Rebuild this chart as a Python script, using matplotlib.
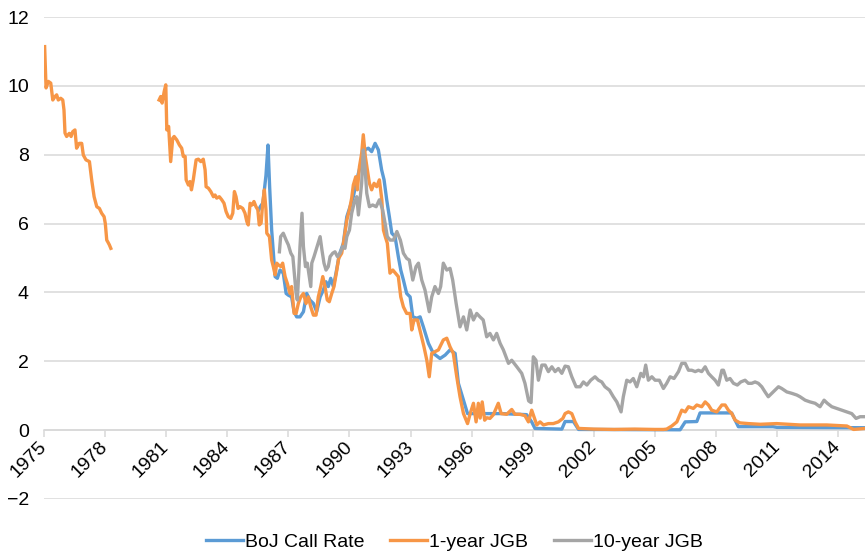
import matplotlib
matplotlib.use('Agg')
import matplotlib.pyplot as plt
import numpy as np

plt.rcParams['font.family'] = ['Liberation Sans', 'DejaVu Sans']
plt.rcParams['font.size'] = 14

# ---- data ----
call_year = [1985.55, 1985.62, 1985.75, 1985.90, 1986.00, 1986.08, 1986.18, 1986.35, 1986.46, 1986.59,
             1986.75, 1986.89, 1987.00, 1987.16, 1987.28, 1987.41, 1987.57, 1987.74, 1987.90, 1988.06,
             1988.23, 1988.39, 1988.56, 1988.72, 1988.85, 1988.96, 1989.08, 1989.21, 1989.34, 1989.50,
             1989.70, 1989.87, 1990.03, 1990.19, 1990.36, 1990.52, 1990.76, 1990.93, 1991.09, 1991.26,
             1991.42, 1991.58, 1991.70, 1991.83, 1991.96, 1992.08, 1992.24, 1992.40, 1992.52, 1992.65,
             1992.81, 1992.98, 1993.11, 1993.31, 1993.47, 1993.63, 1993.88, 1994.12, 1994.45, 1994.70,
             1994.94, 1995.19, 1995.35, 1995.60, 1995.80, 1996.50, 1997.50, 1998.70, 1998.95, 1999.11,
             2000.43, 2000.59, 2001.00, 2001.25, 2006.24, 2006.49, 2007.06, 2007.22, 2008.77, 2008.94,
             2009.10, 2010.80, 2011.00, 2015.33]
call_rate = [6.40, 6.49, 6.60, 7.40, 8.28, 7.07, 5.81, 4.46, 4.41, 4.65,
             4.56, 3.97, 3.92, 3.87, 3.44, 3.29, 3.29, 3.44, 3.97, 3.78,
             3.68, 3.44, 3.87, 4.07, 4.31, 4.17, 4.41, 4.17, 4.56, 5.09,
             5.43, 6.20, 6.49, 6.78, 7.27, 7.65, 8.14, 8.19, 8.09, 8.33,
             8.14, 7.56, 7.27, 6.69, 6.20, 5.72, 5.62, 5.04, 4.65, 4.36,
             3.97, 3.87, 3.29, 3.25, 3.29, 3.00, 2.52, 2.23, 2.08, 2.18,
             2.33, 2.23, 1.36, 0.87, 0.48, 0.48, 0.48, 0.45, 0.24, 0.05,
             0.03, 0.25, 0.25, 0.02, 0.01, 0.24, 0.25, 0.50, 0.50, 0.29,
             0.10, 0.10, 0.08, 0.07]

jgb1_year = [1975.03, 1975.10, 1975.21, 1975.33, 1975.43, 1975.54, 1975.62, 1975.70, 1975.82, 1975.92,
             1975.98, 1976.03, 1976.11, 1976.24, 1976.33, 1976.41, 1976.52, 1976.60, 1976.73, 1976.85,
             1976.93, 1977.06, 1977.23, 1977.34, 1977.46, 1977.59, 1977.72, 1977.83, 1977.95, 1978.01,
             1978.08, 1978.13, 1978.21, 1978.28, 1979.50,
             1980.65, 1980.73, 1980.80, 1980.90, 1980.98, 1981.03, 1981.12, 1981.22, 1981.32, 1981.39,
             1981.52, 1981.65, 1981.76, 1981.84, 1981.93, 1981.98, 1982.09, 1982.17, 1982.24, 1982.33,
             1982.47, 1982.58, 1982.70, 1982.82, 1982.91, 1982.96, 1983.07, 1983.19, 1983.32, 1983.40,
             1983.48, 1983.61, 1983.73, 1983.84, 1983.94, 1984.05, 1984.17, 1984.27, 1984.35, 1984.43,
             1984.53, 1984.63, 1984.76, 1984.87, 1984.96, 1985.03, 1985.12, 1985.22, 1985.31, 1985.41,
             1985.50, 1985.57, 1985.66, 1985.74, 1985.82, 1985.90, 1985.94, 1986.07, 1986.18, 1986.26,
             1986.35, 1986.43, 1986.51, 1986.63, 1986.72, 1986.84, 1986.95, 1987.08, 1987.16, 1987.28,
             1987.38, 1987.49, 1987.61, 1987.74, 1987.87, 1987.98, 1988.10, 1988.23, 1988.36, 1988.47,
             1988.59, 1988.69, 1988.80, 1988.91, 1989.01, 1989.13, 1989.24, 1989.38, 1989.47, 1989.62,
             1989.73, 1989.87, 1990.00, 1990.11, 1990.19, 1990.31, 1990.39, 1990.49, 1990.60, 1990.68,
             1990.78, 1990.88, 1990.98, 1991.09, 1991.21, 1991.34, 1991.47, 1991.59, 1991.67, 1991.76,
             1991.86, 1991.99, 1992.13, 1992.26, 1992.40, 1992.52, 1992.65, 1992.81, 1992.98, 1993.06,
             1993.17, 1993.34, 1993.50, 1993.66, 1993.80, 1993.92, 1994.04, 1994.20, 1994.37, 1994.61,
             1994.78, 1994.94, 1995.10, 1995.27, 1995.43, 1995.60, 1995.80, 1995.93, 1996.09, 1996.22,
             1996.33, 1996.42, 1996.52, 1996.64, 1996.75, 1996.90, 1997.07, 1997.31, 1997.45, 1997.72,
             1997.97, 1998.13, 1998.38, 1998.62, 1998.79, 1998.95, 1999.20, 1999.36, 1999.53, 1999.77,
             2000.01, 2000.26, 2000.48, 2000.59, 2000.75, 2000.92, 2001.08, 2001.25, 2002.00, 2003.00,
             2004.00, 2005.00, 2005.42, 2005.58, 2005.83, 2006.08, 2006.32, 2006.49, 2006.65, 2006.89,
             2007.06, 2007.30, 2007.47, 2007.63, 2007.79, 2008.04, 2008.29, 2008.45, 2008.61, 2008.78,
             2008.94, 2009.18, 2009.60, 2010.17, 2010.98, 2012.13, 2013.44, 2014.43, 2014.76, 2015.33]
jgb1_rate = [11.14, 9.94, 10.13, 10.08, 9.59, 9.69, 9.74, 9.59, 9.64, 9.59,
             9.30, 8.63, 8.53, 8.62, 8.53, 8.67, 8.72, 8.19, 8.33, 8.33,
             7.99, 7.85, 7.80, 7.27, 6.78, 6.49, 6.44, 6.30, 6.20, 6.00,
             5.52, 5.47, 5.38, 5.28, np.nan,
             9.59, 9.69, 9.50, 9.83, 10.03, 8.72, 8.82, 7.80, 8.48, 8.53,
             8.43, 8.28, 8.19, 7.95, 7.95, 7.27, 7.12, 7.22, 6.98, 7.27,
             7.85, 7.87, 7.80, 7.87, 7.56, 7.07, 7.03, 6.93, 6.78, 6.83,
             6.74, 6.78, 6.69, 6.59, 6.35, 6.20, 6.15, 6.30, 6.93, 6.78,
             6.44, 6.49, 6.44, 6.30, 6.06, 5.96, 6.59, 6.54, 6.64, 6.49,
             6.40, 5.96, 6.01, 6.59, 6.98, 6.40, 5.72, 5.62, 4.94, 4.75,
             4.51, 4.85, 4.80, 4.75, 4.85, 4.46, 4.26, 3.97, 4.17, 3.39,
             3.39, 3.68, 3.87, 3.97, 3.68, 3.87, 3.58, 3.34, 3.34, 3.87,
             4.17, 4.46, 4.17, 3.78, 3.73, 3.97, 4.17, 4.65, 4.99, 5.14,
             5.52, 6.10, 6.40, 6.74, 7.12, 7.36, 6.98, 7.65, 8.04, 8.58,
             7.95, 7.56, 7.17, 6.98, 7.17, 7.07, 7.27, 6.69, 5.81, 5.62,
             5.43, 4.56, 4.65, 4.56, 4.46, 3.87, 3.58, 3.39, 3.39, 2.91,
             3.20, 3.20, 2.81, 2.42, 2.03, 1.55, 2.23, 2.28, 2.33, 2.62,
             2.67, 2.42, 2.23, 1.55, 0.97, 0.48, 0.19, 0.48, 0.78, 0.24,
             0.78, 0.35, 0.82, 0.29, 0.36, 0.34, 0.45, 0.78, 0.48, 0.46,
             0.60, 0.46, 0.46, 0.42, 0.24, 0.58, 0.15, 0.24, 0.15, 0.19,
             0.19, 0.24, 0.34, 0.48, 0.53, 0.48, 0.24, 0.05, 0.03, 0.02,
             0.03, 0.02, 0.02, 0.03, 0.12, 0.24, 0.58, 0.53, 0.68, 0.63,
             0.73, 0.68, 0.82, 0.73, 0.58, 0.53, 0.73, 0.73, 0.58, 0.48,
             0.29, 0.21, 0.19, 0.17, 0.19, 0.15, 0.15, 0.12, 0.02, 0.05]

jgb10_year = [1986.56, 1986.62, 1986.75, 1986.89, 1987.00, 1987.12, 1987.22, 1987.28, 1987.38, 1987.44,
              1987.51, 1987.57, 1987.67, 1987.74, 1987.84, 1987.93, 1988.03, 1988.10, 1988.15, 1988.26,
              1988.36, 1988.47, 1988.56, 1988.65, 1988.75, 1988.85, 1988.96, 1989.05, 1989.18, 1989.29,
              1989.41, 1989.54, 1989.67, 1989.78, 1989.87, 1990.00, 1990.11, 1990.23, 1990.36, 1990.44,
              1990.60, 1990.68, 1990.76, 1990.85, 1990.98, 1991.14, 1991.31, 1991.47, 1991.63, 1991.75,
              1991.86, 1992.00, 1992.16, 1992.33, 1992.50, 1992.65, 1992.81, 1992.94, 1993.11, 1993.27,
              1993.39, 1993.55, 1993.71, 1993.92, 1994.04, 1994.20, 1994.37, 1994.48, 1994.61, 1994.78,
              1994.94, 1995.07, 1995.24, 1995.43, 1995.60, 1995.76, 1995.93, 1996.09, 1996.25, 1996.41,
              1996.57, 1996.74, 1996.90, 1997.07, 1997.23, 1997.40, 1997.56, 1997.81, 1997.97, 1998.22,
              1998.46, 1998.62, 1998.80, 1998.92, 1999.03, 1999.16, 1999.28, 1999.45, 1999.61, 1999.77,
              1999.94, 2000.10, 2000.26, 2000.43, 2000.59, 2000.75, 2000.92, 2001.13, 2001.33, 2001.49,
              2001.66, 2001.85, 2002.06, 2002.23, 2002.39, 2002.55, 2002.77, 2002.96, 2003.13, 2003.34,
              2003.45, 2003.62, 2003.78, 2003.94, 2004.11, 2004.31, 2004.44, 2004.55, 2004.68, 2004.85,
              2005.01, 2005.22, 2005.42, 2005.58, 2005.75, 2005.94, 2006.16, 2006.32, 2006.49, 2006.65,
              2006.81, 2006.98, 2007.14, 2007.30, 2007.47, 2007.63, 2007.79, 2007.96, 2008.12, 2008.29,
              2008.37, 2008.53, 2008.69, 2008.86, 2009.05, 2009.22, 2009.43, 2009.59, 2009.76, 2009.92,
              2010.08, 2010.25, 2010.41, 2010.57, 2010.74, 2010.90, 2011.07, 2011.23, 2011.48, 2011.72,
              2011.97, 2012.13, 2012.38, 2012.62, 2012.87, 2013.11, 2013.31, 2013.47, 2013.69, 2013.93,
              2014.18, 2014.43, 2014.67, 2014.88, 2015.08, 2015.29]
jgb10_rate = [5.18, 5.62, 5.72, 5.52, 5.38, 5.14, 5.04, 4.65, 3.97, 3.78,
              4.56, 5.33, 6.30, 5.33, 4.75, 4.85, 4.46, 4.17, 4.85, 5.04,
              5.23, 5.43, 5.62, 5.23, 4.85, 4.65, 4.75, 5.04, 5.14, 5.18,
              5.04, 5.14, 5.33, 5.28, 5.62, 5.81, 6.30, 6.59, 6.78, 6.25,
              7.17, 8.14, 7.65, 6.88, 6.49, 6.54, 6.49, 6.69, 6.40, 6.01,
              5.62, 5.52, 5.52, 5.77, 5.52, 5.14, 4.99, 4.94, 4.36, 4.75,
              4.85, 4.36, 4.07, 3.44, 3.87, 4.17, 3.97, 4.17, 4.85, 4.65,
              4.70, 4.36, 3.68, 3.00, 3.29, 2.91, 3.49, 3.20, 3.39, 3.29,
              3.20, 2.71, 2.81, 2.62, 2.81, 2.52, 2.33, 1.94, 2.03, 1.84,
              1.65, 1.36, 0.85, 0.80, 2.13, 2.03, 1.45, 1.89, 1.89, 1.70,
              1.84, 1.70, 1.79, 1.65, 1.86, 1.84, 1.55, 1.26, 1.26, 1.40,
              1.31, 1.45, 1.55, 1.45, 1.40, 1.26, 1.16, 0.97, 0.82, 0.53,
              0.97, 1.45, 1.40, 1.50, 1.26, 1.65, 1.55, 1.89, 1.45, 1.55,
              1.45, 1.45, 1.21, 1.36, 1.55, 1.50, 1.70, 1.94, 1.94, 1.74,
              1.74, 1.70, 1.74, 1.70, 1.84, 1.65, 1.55, 1.45, 1.31, 1.74,
              1.74, 1.45, 1.50, 1.36, 1.31, 1.40, 1.45, 1.36, 1.36, 1.40,
              1.36, 1.26, 1.11, 0.97, 1.07, 1.16, 1.26, 1.21, 1.11, 1.07,
              1.02, 0.97, 0.87, 0.82, 0.78, 0.68, 0.87, 0.78, 0.68, 0.63,
              0.58, 0.53, 0.48, 0.34, 0.39, 0.39]

tick_years = list(range(1975, 2015, 3))

# ---- figure ----
fig = plt.figure(figsize=(8.65, 5.54), dpi=100)
ax = fig.add_axes([0.0509, 0.0993, 0.9491, 0.870])

lw = 2.4
ax.plot(call_year, call_rate, color='#5B9BD5', lw=lw, label='BoJ Call Rate', zorder=3)
ax.plot(jgb1_year, jgb1_rate, color='#F79646', lw=lw, label='1-year JGB', zorder=4)
ax.plot(jgb10_year, jgb10_rate, color='#A5A5A5', lw=lw, label='10-year JGB', zorder=5)

ax.set_xlim(1975.0, 2015.32)
ax.set_ylim(-2, 12)
ax.set_yticks(range(-2, 13, 2))
ax.yaxis.grid(True, color='#d9d9d9', linewidth=1.1)
ax.set_axisbelow(True)

for side in ['top', 'right', 'left']:
    ax.spines[side].set_visible(False)
ax.spines['bottom'].set_position(('data', 0))
ax.spines['bottom'].set_color('#d9d9d9')
ax.spines['bottom'].set_linewidth(1.1)
ax.spines['bottom'].set_zorder(2)

ax.set_xticks(tick_years)
ax.set_xticklabels([str(y) for y in tick_years], rotation=45, ha='right',
                   va='center', rotation_mode='anchor')
ax.tick_params(axis='x', length=5, width=1.1, color='#d9d9d9', pad=5, labelsize=14)
ax.tick_params(axis='y', length=0, pad=11, labelsize=14)

# legend centred under the plot area, as in the source chart
fig.legend(loc='lower center', bbox_to_anchor=(0.5254, -0.026), ncol=3, frameon=False,
           fontsize=14, handlelength=1.9, handletextpad=0.12, columnspacing=1.3)

plt.savefig('out.png', dpi=100)
plt.close()
